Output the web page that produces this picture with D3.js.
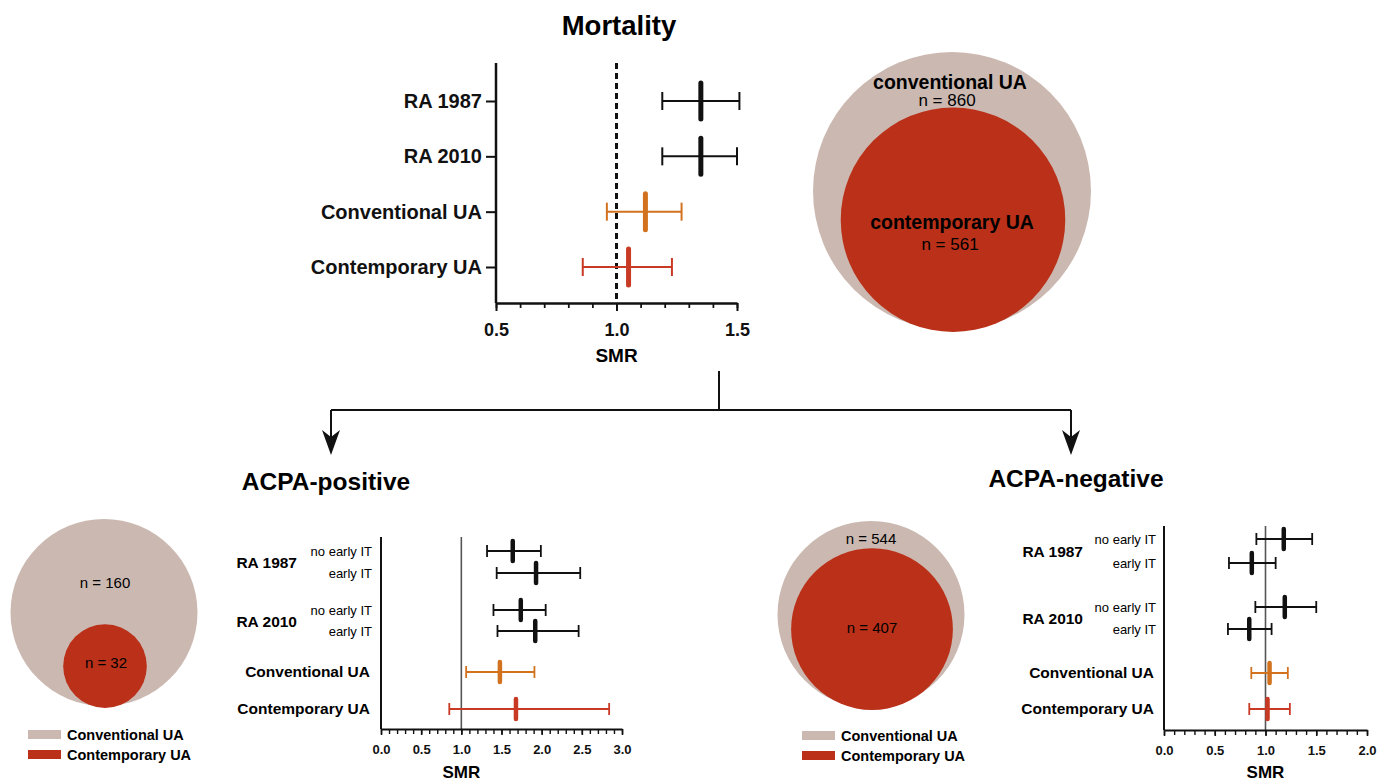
<!DOCTYPE html>
<html>
<head>
<meta charset="utf-8">
<script src="https://cdn.jsdelivr.net/npm/d3@7"></script>
<style>
  body { margin: 0; background: #fff; }
  svg { font-family: "Liberation Sans", Arial, sans-serif; }
  .axis path, .axis line { stroke: #111; }
  .axis text { font-weight: bold; fill: #111; }
</style>
</head>
<body>
<svg id="chart" width="1386" height="781"></svg>
<script>

// ---- data ----
const mortalityRows = ["RA 1987", "RA 2010", "Conventional UA", "Contemporary UA"];
const mortalitySMR  = [1.35, 1.35, 1.12, 1.05];
const mortalityLow  = [1.19, 1.19, 0.96, 0.86];
const mortalityHigh = [1.51, 1.50, 1.27, 1.23];

const subGroups = ["RA 1987", "RA 2010"];
const subRows   = ["no early IT", "early IT", "no early IT", "early IT", "Conventional UA", "Contemporary UA"];

const posSMR  = [1.64, 1.93, 1.74, 1.92, 1.48, 1.68];
const posLow  = [1.32, 1.44, 1.40, 1.45, 1.06, 0.85];
const posHigh = [1.99, 2.48, 2.05, 2.46, 1.91, 2.84];

const negSMR  = [1.18, 0.865, 1.19, 0.84, 1.04, 1.02];
const negLow  = [0.91, 0.64, 0.90, 0.63, 0.86, 0.84];
const negHigh = [1.46, 1.10, 1.50, 1.06, 1.22, 1.24];

const mortalityCounts = [860, 561];
const posCounts = [160, 32];
const negCounts = [544, 407];

const legendLabels = ["Conventional UA", "Contemporary UA"];

// ---- styles ----
const colBlack = "#111";
const colOrange = "#d2721f";
const colRed = "#c93a25";
const circleColors = ["#cbb9b1", "#ba3019"];
const rowColorsTop = [colBlack, colBlack, colOrange, colRed];
const rowColorsSub = [colBlack, colBlack, colBlack, colBlack, colOrange, colRed];

let svg = d3.select("#chart");

svg.append("rect").attr("width", 1386).attr("height", 781).attr("fill", "#fff");

// ---------------- top forest plot ----------------
let mortalityPlot = {
    x: d3.scaleLinear().domain([0.5, 1.5]).range([496, 737]),
    y: d3.scalePoint().domain(mortalityRows).range([101, 267]),
    axisTop: 63,
    axisY: 303
};

svg.append("text")
    .attr("x", 619).attr("y", 35)
    .attr("text-anchor", "middle")
    .style("font-size", "27.5px").style("font-weight", "bold")
    .text("Mortality");

// y axis with row labels
svg.append("g")
    .attr("class", "axis")
    .attr("transform", "translate(" + mortalityPlot.x(0.5) + ",0)")
    .call(d3.axisLeft(mortalityPlot.y).tickSize(10).tickPadding(4).tickSizeOuter(0))
    .call(g => g.select(".domain").remove())
    .call(g => g.selectAll("line").attr("stroke-width", 2))
    .call(g => g.selectAll("text").style("font-size", "20px"));

svg.append("line")
    .attr("x1", mortalityPlot.x(0.5)).attr("x2", mortalityPlot.x(0.5))
    .attr("y1", mortalityPlot.axisTop).attr("y2", mortalityPlot.axisY)
    .attr("stroke", colBlack).attr("stroke-width", 2.5);

drawXAxis(mortalityPlot.x, mortalityPlot.axisY, d3.range(0.5, 1.501, 0.1), [0.5, 1.0, 1.5], 8, 5, 2.5, "18px", 16);

svg.append("text")
    .attr("x", mortalityPlot.x(1.0)).attr("y", 362)
    .attr("text-anchor", "middle")
    .style("font-size", "19px").style("font-weight", "bold")
    .text("SMR");

// dashed reference line
svg.append("line")
    .attr("x1", mortalityPlot.x(1)).attr("x2", mortalityPlot.x(1))
    .attr("y1", mortalityPlot.axisTop).attr("y2", mortalityPlot.axisY)
    .attr("stroke", colBlack).attr("stroke-width", 3)
    .attr("stroke-dasharray", "6,4");

let topData = mortalityRows.map(function (r, i) {
    return {y: mortalityPlot.y(r), smr: mortalitySMR[i], low: mortalityLow[i], high: mortalityHigh[i], color: rowColorsTop[i]};
});
drawErrorBars(topData, mortalityPlot.x, 2, 18, 5, 36);

// top circles
drawCircles(mortalityCounts, 952, 330, 139, null);
svg.append("text").attr("x", 950).attr("y", 89).attr("text-anchor", "middle")
    .style("font-size", "19.5px").style("font-weight", "bold").text("conventional UA");
svg.append("text").attr("x", 947).attr("y", 106).attr("text-anchor", "middle")
    .style("font-size", "17px").text("n = " + mortalityCounts[0]);
svg.append("text").attr("x", 952).attr("y", 229).attr("text-anchor", "middle")
    .style("font-size", "19.5px").style("font-weight", "bold").text("contemporary UA");
svg.append("text").attr("x", 950).attr("y", 250).attr("text-anchor", "middle")
    .style("font-size", "17px").text("n = " + mortalityCounts[1]);

// ---------------- connector arrows ----------------
let conn = svg.append("g").attr("stroke", colBlack).attr("stroke-width", 2).attr("fill", "none");
conn.append("line").attr("x1", 719).attr("x2", 719).attr("y1", 371).attr("y2", 410);
conn.append("line").attr("x1", 331).attr("x2", 1071).attr("y1", 410).attr("y2", 410);
conn.append("line").attr("x1", 331).attr("x2", 331).attr("y1", 410).attr("y2", 440);
conn.append("line").attr("x1", 1071).attr("x2", 1071).attr("y1", 410).attr("y2", 440);
[331, 1071].forEach(function (ax) {
    svg.append("path")
        .attr("d", "M" + (ax - 9) + ",430 L" + ax + ",455 L" + (ax + 9) + ",430 L" + ax + ",437 Z")
        .attr("fill", colBlack);
});

svg.append("text").attr("x", 326).attr("y", 490).attr("text-anchor", "middle")
    .style("font-size", "24.5px").style("font-weight", "bold").text("ACPA-positive");
svg.append("text").attr("x", 1076).attr("y", 487).attr("text-anchor", "middle")
    .style("font-size", "24.5px").style("font-weight", "bold").text("ACPA-negative");

// ---------------- bottom panels ----------------
drawSubForest({
    x: d3.scaleLinear().domain([0, 3]).range([381, 622]),
    rowY: [551, 573, 610, 631, 672, 709],
    axisTop: 537, axisY: 729,
    labelX: 372, groupX: 297,
    smr: posSMR, low: posLow, high: posHigh,
    tickLabelY: 12, smrY: 778
});

drawSubForest({
    x: d3.scaleLinear().domain([0, 2]).range([1164, 1367]),
    rowY: [539, 563, 607, 629, 673, 709],
    axisTop: 526, axisY: 730,
    labelX: 1156, groupX: 1083,
    smr: negSMR, low: negLow, high: negHigh,
    tickLabelY: 12, smrY: 778
});

// bottom circles
drawCircles(posCounts, 104, 706, 93.5, [[105, 588], [106, 668]]);
drawCircles(negCounts, 871, 708, 93.5, [[871, 544], [872, 633]]);

drawLegend(28, 67, 730);
drawLegend(802, 841, 731);


// draws x axis: minor ticks, major ticks with labels
function drawXAxis(x, y, minor, major, majorLen, minorLen, width, fontSize, pad) {
    svg.append("g")
        .attr("class", "axis")
        .attr("transform", "translate(0," + y + ")")
        .call(d3.axisBottom(x).tickValues(minor).tickSize(minorLen).tickSizeOuter(0).tickFormat(""))
        .call(g => g.selectAll("line").attr("stroke-width", width * 0.7))
        .call(g => g.select(".domain").attr("stroke-width", width));

    svg.append("g")
        .attr("class", "axis")
        .attr("transform", "translate(0," + y + ")")
        .call(d3.axisBottom(x).tickValues(major).tickSize(majorLen).tickPadding(pad - majorLen + 4)
            .tickFormat(d3.format(".1f")))
        .call(g => g.select(".domain").remove())
        .call(g => g.selectAll("line").attr("stroke-width", width * 0.8))
        .call(g => g.selectAll("text").style("font-size", fontSize));
}

// draws error bars with a thick mean marker
function drawErrorBars(data, x, lineW, capH, meanW, meanH) {
    let g = svg.append("g");
    g.selectAll(".ci")
        .data(data).enter().append("line")
        .attr("x1", d => x(d.low)).attr("x2", d => x(d.high))
        .attr("y1", d => d.y).attr("y2", d => d.y)
        .attr("stroke", d => d.color).attr("stroke-width", lineW);
    ["low", "high"].forEach(function (k) {
        g.selectAll(".cap-" + k)
            .data(data).enter().append("line")
            .attr("x1", d => x(d[k])).attr("x2", d => x(d[k]))
            .attr("y1", d => d.y - capH / 2).attr("y2", d => d.y + capH / 2)
            .attr("stroke", d => d.color).attr("stroke-width", lineW);
    });
    g.selectAll(".mean")
        .data(data).enter().append("line")
        .attr("x1", d => x(d.smr)).attr("x2", d => x(d.smr))
        .attr("y1", d => d.y - meanH / 2).attr("y2", d => d.y + meanH / 2)
        .attr("stroke", d => d.color).attr("stroke-width", meanW)
        .attr("stroke-linecap", "round");
}

// bottom forest plot with sub rows
function drawSubForest(cfg) {
    let x = cfg.x;
    let x0 = x.range()[0];

    // solid reference line at 1.0
    svg.append("line")
        .attr("x1", x(1)).attr("x2", x(1))
        .attr("y1", cfg.axisTop).attr("y2", cfg.axisY)
        .attr("stroke", "#555").attr("stroke-width", 1.6);

    svg.append("line")
        .attr("x1", x0).attr("x2", x0)
        .attr("y1", cfg.axisTop).attr("y2", cfg.axisY)
        .attr("stroke", colBlack).attr("stroke-width", 2);

    let maxV = x.domain()[1];
    drawXAxis(x, cfg.axisY, d3.range(0, maxV + 0.001, 0.1), d3.range(0, maxV + 0.001, 0.5),
        6, 5, 2, "13px", cfg.tickLabelY);

    svg.append("text")
        .attr("x", x(1)).attr("y", cfg.smrY)
        .attr("text-anchor", "middle")
        .style("font-size", "17px").style("font-weight", "bold")
        .text("SMR");

    // row labels
    subRows.forEach(function (r, i) {
        let bold = i >= 4;
        svg.append("text")
            .attr("x", bold ? cfg.labelX - 2 : cfg.labelX).attr("y", cfg.rowY[i])
            .attr("dy", "0.35em").attr("text-anchor", "end")
            .style("font-size", bold ? "15.5px" : "13px")
            .style("font-weight", bold ? "bold" : "normal")
            .text(r);
    });
    subGroups.forEach(function (gName, i) {
        svg.append("text")
            .attr("x", cfg.groupX).attr("y", (cfg.rowY[i * 2] + cfg.rowY[i * 2 + 1]) / 2 + 1)
            .attr("dy", "0.35em").attr("text-anchor", "end")
            .style("font-size", "15.5px").style("font-weight", "bold")
            .text(gName);
    });

    let data = subRows.map(function (r, i) {
        return {y: cfg.rowY[i], smr: cfg.smr[i], low: cfg.low[i], high: cfg.high[i], color: rowColorsSub[i]};
    });
    drawErrorBars(data, x, 1.8, 12, 4.5, 20);
}

// nested circles, inner one touching the bottom of the outer one
function drawCircles(counts, cx, bottomY, outerR, labelPos) {
    let r = d3.scaleSqrt().domain([0, counts[0]]).range([0, outerR]);
    counts.forEach(function (n, i) {
        svg.append("circle")
            .attr("cx", cx + (i ? 1 : 0)).attr("cy", bottomY - r(n) + (i ? 2 : 0))
            .attr("r", r(n))
            .attr("fill", circleColors[i]);
    });
    if (labelPos) {
        counts.forEach(function (n, i) {
            svg.append("text")
                .attr("x", labelPos[i][0]).attr("y", labelPos[i][1])
                .attr("text-anchor", "middle")
                .style("font-size", "15px")
                .text("n = " + n);
        });
    }
}

function drawLegend(rx, tx, y) {
    legendLabels.forEach(function (l, i) {
        svg.append("rect")
            .attr("x", rx).attr("y", y + i * 20)
            .attr("width", 33).attr("height", 9)
            .attr("fill", circleColors[i]);
        svg.append("text")
            .attr("x", tx).attr("y", y + i * 20 + 4.5)
            .attr("dy", "0.35em")
            .style("font-size", "14.5px").style("font-weight", "bold")
            .text(l);
    });
}

</script>
</body>
</html>
